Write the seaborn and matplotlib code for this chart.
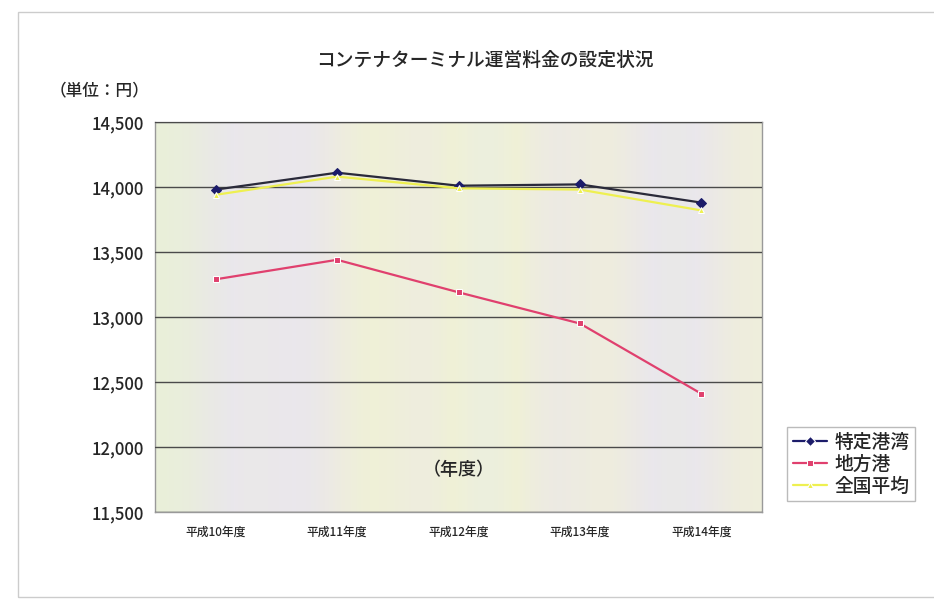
import pandas as pd
import numpy as np
import matplotlib
matplotlib.use('Agg')
import matplotlib.pyplot as plt
import seaborn as sns

# データ
years = ['平成10年度', '平成11年度', '平成12年度', '平成13年度', '平成14年度']
tokutei = [13980, 14110, 14010, 14020, 13880]
chihou = [13290, 13440, 13190, 12950, 12410]
zenkoku = [13940, 14080, 13990, 13980, 13820]
series_names = ['特定港湾', '地方港', '全国平均']
yticks = [11500, 12000, 12500, 13000, 13500, 14000, 14500]

df = pd.DataFrame({'年度': years * 3,
                   '料金': tokutei + chihou + zenkoku,
                   '区分': [series_names[0]] * 5 + [series_names[1]] * 5 + [series_names[2]] * 5})

sns.set_theme(style='white')
plt.rcParams['font.family'] = ['Noto Sans CJK JP', 'DejaVu Sans']

fig = plt.figure(figsize=(9.34, 6.11), dpi=100)
ax = fig.add_axes([155 / 934, 1 - 512 / 611, (762 - 155) / 934, (512 - 122) / 611])

# 背景（淡いグラデーション）
ax.set_facecolor('#eef1dd')
grad = np.array([[0.0, 0.5, 0.2, 0.8, 0.4, 1.0, 0.3, 0.7, 0.1, 0.6]])
cmap = matplotlib.colors.LinearSegmentedColormap.from_list(
    'bg', ['#e9f0d8', '#eae6ee', '#f1f1d6', '#e3ecec'])
ax.imshow(grad, aspect='auto', cmap=cmap, extent=[0, 1, 0, 1],
          transform=ax.transAxes, zorder=0, interpolation='bicubic', alpha=0.9)

palette = {'特定港湾': '#1c1c6a', '地方港': '#e0406e', '全国平均': '#eef050'}
markers = {'特定港湾': 'D', '地方港': 's', '全国平均': '^'}
sns.lineplot(data=df, x='年度', y='料金', hue='区分', style='区分',
             palette=palette, markers=markers, dashes=False,
             markersize=5, linewidth=1.6, sort=False, ax=ax, zorder=3)

# 特定港湾の線は黒っぽく
ax.lines[0].set_color('#2a2a3a')
ax.lines[0].set_markerfacecolor('#1c1c6a')
ax.lines[0].set_markeredgecolor('#1c1c6a')

ax.set_ylim(11500, 14500)
ax.set_xlim(-0.5, 4.5)
ax.set_yticks(yticks)
ax.set_yticklabels([f'{v:,}' for v in yticks], fontsize=12, fontweight='medium')
for t in ax.get_xticklabels():
    t.set_fontweight('medium')
ax.tick_params(axis='x', labelsize=8.5, pad=10, length=0)
ax.tick_params(axis='y', length=0, pad=8)
ax.yaxis.grid(True, color='#4a4a4a', linewidth=1.0)
ax.set_axisbelow(False)
for s in ax.spines.values():
    s.set_color('#999999')
    s.set_linewidth(1.0)
ax.set_xlabel('')
ax.set_ylabel('')

ax.text(0.5, 0.108, '（年度）', transform=ax.transAxes, ha='center', va='center',
        fontsize=13, fontweight='medium')

fig.text(485 / 934, 1 - 60 / 611, 'コンテナターミナル運営料金の設定状況', ha='center', va='center',
         fontsize=13.5, fontweight='medium')
fig.text(50 / 934, 1 - 90 / 611, '（単位：円）', ha='left', va='center', fontsize=12,
         fontweight='medium')

leg = ax.legend(loc='upper left', bbox_to_anchor=(778 / 934, 1 - 418 / 611),
                bbox_transform=fig.transFigure, frameon=True,
                prop={'size': 13.5, 'weight': 'medium'},
                fancybox=False, handlelength=1.8, borderpad=0.3, labelspacing=0.15,
                handletextpad=0.4)
leg.get_frame().set_edgecolor('#aaaaaa')
leg.get_frame().set_facecolor('white')

# 外枠
fig.patches.append(matplotlib.patches.Rectangle((18 / 934, 1 - 597 / 611), 1.0, (597 - 12) / 611,
                                                transform=fig.transFigure, fill=False,
                                                edgecolor='#cccccc', linewidth=1.0))

fig.savefig('out.png', dpi=100)
